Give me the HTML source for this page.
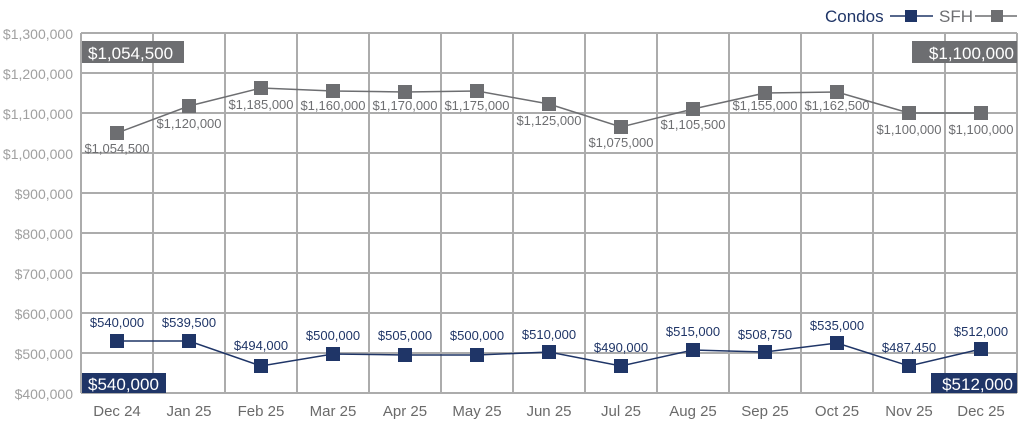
<!DOCTYPE html>
<html><head><meta charset="utf-8"><style>html,body{margin:0;padding:0;background:#fff}svg{display:block}</style></head><body>
<svg width="1024" height="431" xmlns="http://www.w3.org/2000/svg" font-family="Liberation Sans, sans-serif">
<g stroke="#acacac" stroke-width="2" fill="none">
<line x1="81" y1="33" x2="1017" y2="33"/><line x1="81" y1="73" x2="1017" y2="73"/><line x1="81" y1="113" x2="1017" y2="113"/><line x1="81" y1="153" x2="1017" y2="153"/><line x1="81" y1="193" x2="1017" y2="193"/><line x1="81" y1="233" x2="1017" y2="233"/><line x1="81" y1="273" x2="1017" y2="273"/><line x1="81" y1="313" x2="1017" y2="313"/><line x1="81" y1="353" x2="1017" y2="353"/><line x1="81" y1="393" x2="1017" y2="393"/>
<line x1="81" y1="33" x2="81" y2="393"/><line x1="153" y1="33" x2="153" y2="393"/><line x1="225" y1="33" x2="225" y2="393"/><line x1="297" y1="33" x2="297" y2="393"/><line x1="369" y1="33" x2="369" y2="393"/><line x1="441" y1="33" x2="441" y2="393"/><line x1="513" y1="33" x2="513" y2="393"/><line x1="585" y1="33" x2="585" y2="393"/><line x1="657" y1="33" x2="657" y2="393"/><line x1="729" y1="33" x2="729" y2="393"/><line x1="801" y1="33" x2="801" y2="393"/><line x1="873" y1="33" x2="873" y2="393"/><line x1="945" y1="33" x2="945" y2="393"/><line x1="1017" y1="33" x2="1017" y2="393"/>
</g>
<g fill="#a0a0a0" font-size="14" text-anchor="end">
<text x="73" y="39">$1,300,000</text><text x="73" y="79">$1,200,000</text><text x="73" y="119">$1,100,000</text><text x="73" y="159">$1,000,000</text><text x="73" y="199">$900,000</text><text x="73" y="239">$800,000</text><text x="73" y="279">$700,000</text><text x="73" y="319">$600,000</text><text x="73" y="359">$500,000</text><text x="73" y="399">$400,000</text>
</g>
<g fill="#6a6a6a" font-size="15" text-anchor="middle">
<text x="117" y="416">Dec 24</text><text x="189" y="416">Jan 25</text><text x="261" y="416">Feb 25</text><text x="333" y="416">Mar 25</text><text x="405" y="416">Apr 25</text><text x="477" y="416">May 25</text><text x="549" y="416">Jun 25</text><text x="621" y="416">Jul 25</text><text x="693" y="416">Aug 25</text><text x="765" y="416">Sep 25</text><text x="837" y="416">Oct 25</text><text x="909" y="416">Nov 25</text><text x="981" y="416">Dec 25</text>
</g>
<polyline fill="none" stroke="#6d6e71" stroke-width="1.5" points="117,133 189,106 261,88 333,91 405,92 477,91 549,104 621,127 693,109 765,93 837,92 909,113 981,113"/>
<g fill="#6d6e71">
<rect x="110" y="126" width="14" height="14"/><rect x="182" y="99" width="14" height="14"/><rect x="254" y="81" width="14" height="14"/><rect x="326" y="84" width="14" height="14"/><rect x="398" y="85" width="14" height="14"/><rect x="470" y="84" width="14" height="14"/><rect x="542" y="97" width="14" height="14"/><rect x="614" y="120" width="14" height="14"/><rect x="686" y="102" width="14" height="14"/><rect x="758" y="86" width="14" height="14"/><rect x="830" y="85" width="14" height="14"/><rect x="902" y="106" width="14" height="14"/><rect x="974" y="106" width="14" height="14"/>
</g>
<g fill="#6d6e71" font-size="13" text-anchor="middle">
<text x="117" y="153">$1,054,500</text><text x="189" y="128">$1,120,000</text><text x="261" y="109">$1,185,000</text><text x="333" y="110">$1,160,000</text><text x="405" y="110">$1,170,000</text><text x="477" y="110">$1,175,000</text><text x="549" y="125">$1,125,000</text><text x="621" y="147">$1,075,000</text><text x="693" y="129">$1,105,500</text><text x="765" y="110">$1,155,000</text><text x="837" y="110">$1,162,500</text><text x="909" y="134">$1,100,000</text><text x="981" y="134">$1,100,000</text>
</g>
<polyline fill="none" stroke="#1f3567" stroke-width="1.5" points="117,341 189,341 261,366 333,354 405,355 477,355 549,352 621,366 693,350 765,352 837,343 909,366 981,349"/>
<g fill="#1f3567">
<rect x="110" y="334" width="14" height="14"/><rect x="182" y="334" width="14" height="14"/><rect x="254" y="359" width="14" height="14"/><rect x="326" y="347" width="14" height="14"/><rect x="398" y="348" width="14" height="14"/><rect x="470" y="348" width="14" height="14"/><rect x="542" y="345" width="14" height="14"/><rect x="614" y="359" width="14" height="14"/><rect x="686" y="343" width="14" height="14"/><rect x="758" y="345" width="14" height="14"/><rect x="830" y="336" width="14" height="14"/><rect x="902" y="359" width="14" height="14"/><rect x="974" y="342" width="14" height="14"/>
</g>
<g fill="#1f3567" font-size="13" text-anchor="middle">
<text x="117" y="327">$540,000</text><text x="189" y="327">$539,500</text><text x="261" y="350">$494,000</text><text x="333" y="340">$500,000</text><text x="405" y="340">$505,000</text><text x="477" y="340">$500,000</text><text x="549" y="339">$510,000</text><text x="621" y="352">$490,000</text><text x="693" y="336">$515,000</text><text x="765" y="339">$508,750</text><text x="837" y="330">$535,000</text><text x="909" y="352">$487,450</text><text x="981" y="336">$512,000</text>
</g>
<rect x="82" y="41" width="102" height="22" fill="#6d6e71"/><text x="88" y="59" fill="#fff" font-size="17">$1,054,500</text>
<rect x="912" y="41" width="105" height="22" fill="#6d6e71"/><text x="1014" y="59" fill="#fff" font-size="17" text-anchor="end">$1,100,000</text>
<rect x="82" y="373" width="84" height="20" fill="#1f3567"/><text x="88" y="390" fill="#fff" font-size="17">$540,000</text>
<rect x="931" y="373" width="86" height="20" fill="#1f3567"/><text x="1013" y="390" fill="#fff" font-size="17" text-anchor="end">$512,000</text>
<text x="825" y="22" fill="#1f3567" font-size="17">Condos</text>
<line x1="890" y1="16" x2="933" y2="16" stroke="#1f3567" stroke-width="1.5"/><rect x="905" y="10" width="12" height="12" fill="#1f3567"/>
<text x="939" y="22" fill="#6d6e71" font-size="17">SFH</text>
<line x1="975" y1="16" x2="1017" y2="16" stroke="#6d6e71" stroke-width="1.5"/><rect x="991" y="10" width="12" height="12" fill="#6d6e71"/>
</svg>
</body></html>
